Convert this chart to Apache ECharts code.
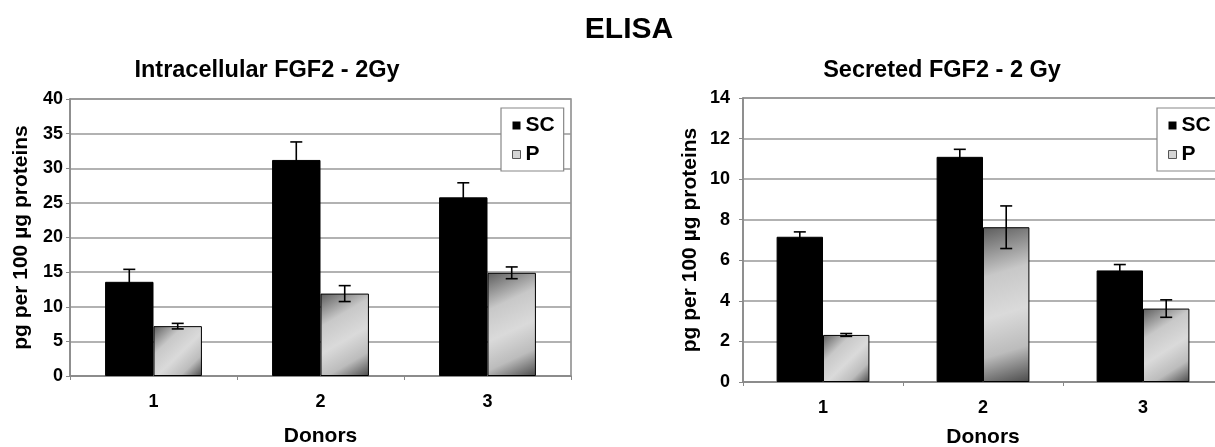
<!DOCTYPE html>
<html>
<head>
<meta charset="utf-8">
<script src="https://cdn.jsdelivr.net/npm/echarts@6/dist/echarts.min.js"></script>
<style>
html,body{margin:0;padding:0;background:#fff;}
#chart{width:1215px;height:447px;}
</style>
</head>
<body>
<div id="chart"></div>
<script>
// ---- Data ----
const donors = ['1', '2', '3'];
const intraSC = [13.6, 31.2, 25.8];
const intraSCErr = [1.8, 2.6, 2.1];
const intraP = [7.2, 11.9, 14.9];
const intraPErr = [0.4, 1.15, 0.85];
const secSC = [7.16, 11.1, 5.5];
const secSCErr = [0.24, 0.37, 0.29];
const secP = [2.32, 7.63, 3.62];
const secPErr = [0.07, 1.05, 0.43];
const intraTicks = { min: 0, max: 40, interval: 5 };
const secTicks = { min: 0, max: 14, interval: 2 };

// ---- Styles ----
const FONT = "'Liberation Sans', Arial, sans-serif";
const GAP = 0.42;                  // barCategoryGap fraction
const BAR_FRAC = (1 - GAP) / 2;    // each bar width as band fraction
const pGradient = {
  type: 'linear', x: 0, y: 0, x2: 1, y2: 1,
  colorStops: [
    { offset: 0, color: '#5c5c5c' },
    { offset: 0.3, color: '#c8c8c8' },
    { offset: 0.55, color: '#dadada' },
    { offset: 0.78, color: '#bcbcbc' },
    { offset: 1, color: '#4a4a4a' }
  ]
};

function errRender(side) {
  return function (params, api) {
    const i = api.value(0), v = api.value(1), e = api.value(2);
    const band = api.size([1, 0])[0];
    const base = api.coord([i, v]);
    const cx = base[0] + side * band * BAR_FRAC / 2;
    const hi = api.coord([i, v + e])[1];
    const lo = api.coord([i, v - e])[1];
    const cap = 6;
    const st = { stroke: '#000', lineWidth: 1.6 };
    return {
      type: 'group',
      children: [
        { type: 'line', shape: { x1: cx, y1: hi, x2: cx, y2: lo }, style: st },
        { type: 'line', shape: { x1: cx - cap, y1: hi, x2: cx + cap, y2: hi }, style: st },
        { type: 'line', shape: { x1: cx - cap, y1: lo, x2: cx + cap, y2: lo }, style: st }
      ]
    };
  };
}

function errData(vals, errs) {
  return vals.map((v, i) => [i, v, errs[i]]);
}

function xAxisCfg(gridIndex, nameGap) {
  return {
    type: 'category', gridIndex: gridIndex, data: donors,
    name: 'Donors', nameLocation: 'middle', nameGap: nameGap,
    nameTextStyle: { fontFamily: FONT, fontWeight: 'bold', fontSize: 21, color: '#000' },
    axisLine: { show: true, lineStyle: { color: '#888', width: 1.5 } },
    axisTick: { show: true, length: 4, lineStyle: { color: '#888' } },
    axisLabel: { fontFamily: FONT, fontWeight: 'bold', fontSize: 18, color: '#000', margin: 17 },
    splitLine: { show: false }
  };
}

function yAxisCfg(gridIndex, t, nameGap, labelMargin) {
  return {
    type: 'value', gridIndex: gridIndex, min: t.min, max: t.max, interval: t.interval,
    name: 'pg per 100 µg proteins', nameLocation: 'middle', nameGap: nameGap,
    nameTextStyle: { fontFamily: FONT, fontWeight: 'bold', fontSize: 21, color: '#000' },
    axisLine: { show: true, lineStyle: { color: '#888', width: 1.5 } },
    axisTick: { show: true, length: 4, lineStyle: { color: '#888' } },
    axisLabel: { fontFamily: FONT, fontWeight: 'bold', fontSize: 18, color: '#000', margin: labelMargin },
    splitLine: { show: true, lineStyle: { color: '#999', width: 1.5 } }
  };
}

function legendCfg(left) {
  return {
    left: left, top: 108, orient: 'vertical',
    backgroundColor: '#fff', borderColor: '#888', borderWidth: 1.2,
    padding: [7, 9, 6, 11], itemGap: 8,
    itemWidth: 8, itemHeight: 8, icon: 'rect',
    textStyle: { fontFamily: FONT, fontWeight: 'bold', fontSize: 21, color: '#000' },
    selectedMode: false,
    data: [
      { name: 'SC', itemStyle: { color: '#000', borderWidth: 0 } },
      { name: 'P', itemStyle: { color: '#d4d4d4', borderColor: '#555', borderWidth: 1 } }
    ]
  };
}

function barSeries(name, data, idx, color) {
  return {
    type: 'bar', name: name, xAxisIndex: idx, yAxisIndex: idx, data: data,
    barGap: '0%', barCategoryGap: (GAP * 100) + '%',
    itemStyle: { color: color, borderColor: '#000', borderWidth: 1 },
    emphasis: { disabled: true }, z: 2
  };
}

function errSeries(name, vals, errs, idx, side) {
  return {
    type: 'custom', name: name + ' error', xAxisIndex: idx, yAxisIndex: idx,
    data: errData(vals, errs), renderItem: errRender(side), z: 5, silent: true,
    encode: { x: 0, y: [1] }
  };
}

const option = {
  backgroundColor: '#fff',
  animation: false,
  textStyle: { fontFamily: FONT },
  title: [
    { text: 'ELISA', left: 624, top: 10, textAlign: 'center',
      textStyle: { fontFamily: FONT, fontWeight: 'bold', fontSize: 30, color: '#000' } },
    { text: 'Intracellular FGF2 - 2Gy', left: 262, top: 54, textAlign: 'center',
      textStyle: { fontFamily: FONT, fontWeight: 'bold', fontSize: 23.5, color: '#000' } },
    { text: 'Secreted FGF2 - 2 Gy', left: 937, top: 54, textAlign: 'center',
      textStyle: { fontFamily: FONT, fontWeight: 'bold', fontSize: 23.5, color: '#000' } }
  ],
  legend: [legendCfg(501), legendCfg(1157)],
  grid: [
    { left: 70, top: 99, width: 501, height: 277, show: true, borderColor: '#888', borderWidth: 1.5,
      backgroundColor: 'transparent', outerBoundsMode: 'none', containLabel: false },
    { left: 743, top: 98, width: 480, height: 284, show: true, borderColor: '#888', borderWidth: 1.5,
      backgroundColor: 'transparent', outerBoundsMode: 'none', containLabel: false }
  ],
  xAxis: [xAxisCfg(0, 50), xAxisCfg(1, 45)],
  yAxis: [yAxisCfg(0, intraTicks, 38, 7), yAxisCfg(1, secTicks, 42, 13)],
  series: [
    barSeries('SC', intraSC, 0, '#000'),
    barSeries('P', intraP, 0, pGradient),
    barSeries('SC', secSC, 1, '#000'),
    barSeries('P', secP, 1, pGradient),
    errSeries('SC', intraSC, intraSCErr, 0, -1),
    errSeries('P', intraP, intraPErr, 0, 1),
    errSeries('SC', secSC, secSCErr, 1, -1),
    errSeries('P', secP, secPErr, 1, 1)
  ]
};

const chart = echarts.init(document.getElementById('chart'), null, { renderer: 'canvas' });
chart.setOption(option);
</script>
</body>
</html>
